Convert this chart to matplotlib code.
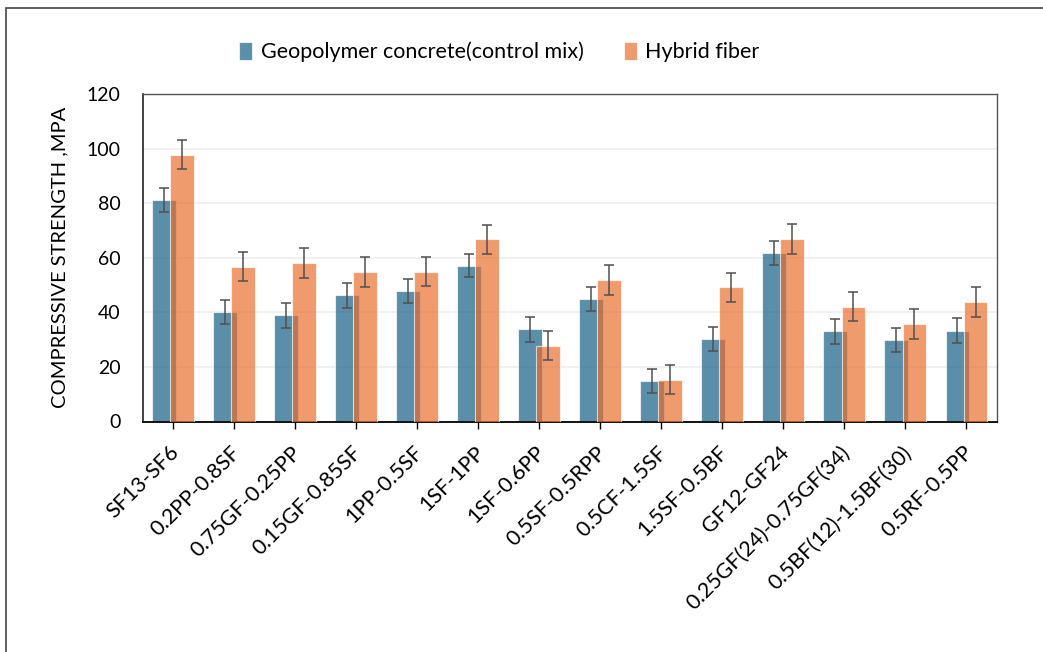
import numpy as np
import matplotlib
matplotlib.use("Agg")
from matplotlib import pyplot as plt
from matplotlib.patches import Rectangle
from matplotlib.transforms import ScaledTranslation

plt.rcParams['font.family'] = ['Lato', 'DejaVu Sans']

# mix labels along the x axis
mixes = ['SF13-SF6', '0.2PP-0.8SF', '0.75GF-0.25PP', '0.15GF-0.85SF', '1PP-0.5SF',
         '1SF-1PP', '1SF-0.6PP', '0.5SF-0.5RPP', '0.5CF-1.5SF', '1.5SF-0.5BF',
         'GF12-GF24', '0.25GF(24)-0.75GF(34)', '0.5BF(12)-1.5BF(30)', '0.5RF-0.5PP']

# compressive strength, MPa
control = [81.0, 40.0, 38.9, 46.2, 47.8, 57.1, 33.8, 44.9, 14.8, 30.3, 61.6, 33.1, 29.8, 33.3]
hybrid = [97.8, 56.7, 57.9, 54.6, 54.9, 66.8, 27.8, 51.8, 15.3, 49.2, 66.8, 42.1, 35.7, 43.8]

# error bar half-lengths
control_err = [4.4, 4.4, 4.5, 4.5, 4.5, 4.3, 4.5, 4.5, 4.4, 4.4, 4.4, 4.6, 4.4, 4.5]
hybrid_err = [5.2, 5.3, 5.5, 5.5, 5.3, 5.3, 5.4, 5.4, 5.3, 5.3, 5.4, 5.3, 5.4, 5.4]

yticks = [0, 20, 40, 60, 80, 100, 120]

fig = plt.figure(figsize=(10.43, 6.52), dpi=100)
ax = fig.add_axes([143 / 1043, 1 - 421.5 / 652, (997 - 143) / 1043, (421.5 - 94) / 652])

x = np.arange(len(mixes))
w = 0.39
off = 0.148

ax.bar(x - off, control, w, color='#0e5a80', alpha=0.68, edgecolor='white', linewidth=0.8,
       label='Geopolymer concrete(control mix)', zorder=2)
ax.bar(x + off, hybrid, w, color='#e96c2a', alpha=0.68, edgecolor='white', linewidth=0.8,
       label='Hybrid fiber', zorder=3)
ax.errorbar(x - off, control, yerr=control_err, fmt='none', ecolor='#505050', elinewidth=1.1,
            capsize=3.5, capthick=1.1, zorder=4)
ax.errorbar(x + off, hybrid, yerr=hybrid_err, fmt='none', ecolor='#505050', elinewidth=1.1,
            capsize=3.5, capthick=1.1, zorder=4)

ax.set_xlim(-0.49, len(mixes) - 0.5)
ax.set_ylim(0, 120)
ax.set_yticks(yticks)
ax.set_yticklabels([str(t) for t in yticks], fontsize=14)
ax.tick_params(axis='y', length=0, pad=16)
ax.set_xticks(x)
ax.set_xticklabels(mixes, rotation=45, ha='right', rotation_mode='anchor', fontsize=15.5)
ax.tick_params(axis='x', length=5, width=1, direction='out', pad=10)
# nudge the slanted labels a little left so their ends sit under the ticks
shift = ScaledTranslation(-3 / 72, 0, fig.dpi_scale_trans)
for lbl in ax.get_xticklabels():
    lbl.set_transform(lbl.get_transform() + shift)
ax.yaxis.grid(True, color='#eeeeee', linewidth=1.2, zorder=0)
ax.set_axisbelow(True)

for side in ['top', 'right']:
    ax.spines[side].set_color('#555555')
    ax.spines[side].set_linewidth(1.0)
ax.spines['left'].set_color('#222222')
ax.spines['left'].set_linewidth(1.2)
ax.spines['bottom'].set_color('#111111')
ax.spines['bottom'].set_linewidth(1.4)

ax.set_ylabel('COMPRESSIVE STRENGTH ,MPA', fontsize=14.5)
ax.yaxis.set_label_coords(-0.087, 0.5)

handles, labels = ax.get_legend_handles_labels()
fig.legend(handles, labels, loc='center left', bbox_to_anchor=(220 / 1043, 1 - 52 / 652),
           ncol=2, frameon=False, fontsize=15.5, handlelength=0.6, handleheight=0.9,
           handletextpad=0.4, columnspacing=1.85)

# outer frame of the chart area
fig.patches.append(Rectangle((6 / 1043, -0.05), 1.2, 1.05 - 8 / 652, transform=fig.transFigure,
                             fill=False, edgecolor='#444444', linewidth=1.2))

fig.savefig('out.png', dpi=100)
